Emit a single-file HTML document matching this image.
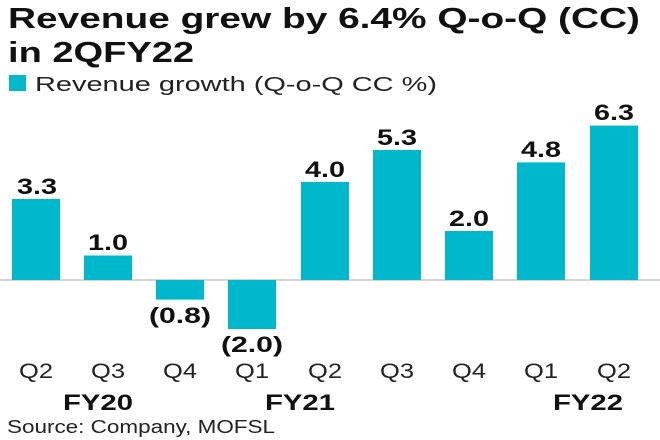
<!DOCTYPE html>
<html><head><style>body{margin:0;background:#fff}svg{display:block}</style></head><body>
<svg width="660" height="440" xmlns="http://www.w3.org/2000/svg" font-family="Liberation Sans, sans-serif">
<text x="8" y="28" font-size="29" font-weight="bold" fill="#111" textLength="632" lengthAdjust="spacingAndGlyphs">Revenue grew by 6.4% Q-o-Q (CC)</text>
<text x="8" y="62" font-size="29" font-weight="bold" fill="#111" textLength="186" lengthAdjust="spacingAndGlyphs">in 2QFY22</text>
<rect x="9" y="75" width="17" height="16" fill="#00b8cc"/>
<text x="35" y="91" font-size="20" fill="#222" textLength="402" lengthAdjust="spacingAndGlyphs">Revenue growth (Q-o-Q CC %)</text>
<line x1="0" y1="280" x2="660" y2="280" stroke="#aaa" stroke-width="1"/>
<g fill="#00b8cc">
<rect x="12" y="199" width="48" height="81"/>
<rect x="84" y="255.5" width="48" height="24.5"/>
<rect x="156" y="280" width="48" height="19.6"/>
<rect x="228" y="280" width="48" height="49"/>
<rect x="301" y="182" width="48" height="98"/>
<rect x="373" y="150" width="48" height="130"/>
<rect x="445" y="231" width="48" height="49"/>
<rect x="517" y="162.4" width="48" height="117.6"/>
<rect x="590" y="125.6" width="48" height="154.4"/>
</g>
<g font-size="22" font-weight="bold" fill="#111" text-anchor="middle">
<text x="37" y="194" textLength="40" lengthAdjust="spacingAndGlyphs">3.3</text>
<text x="108" y="250" textLength="40" lengthAdjust="spacingAndGlyphs">1.0</text>
<text x="180" y="323" textLength="62" lengthAdjust="spacingAndGlyphs">(0.8)</text>
<text x="252" y="352" textLength="62" lengthAdjust="spacingAndGlyphs">(2.0)</text>
<text x="325" y="177" textLength="40" lengthAdjust="spacingAndGlyphs">4.0</text>
<text x="397" y="145" textLength="40" lengthAdjust="spacingAndGlyphs">5.3</text>
<text x="469" y="226" textLength="40" lengthAdjust="spacingAndGlyphs">2.0</text>
<text x="541" y="157" textLength="40" lengthAdjust="spacingAndGlyphs">4.8</text>
<text x="614" y="120" textLength="40" lengthAdjust="spacingAndGlyphs">6.3</text>
</g>
<g font-size="21" fill="#222" text-anchor="middle">
<text x="36" y="378" textLength="34" lengthAdjust="spacingAndGlyphs">Q2</text><text x="108" y="378" textLength="34" lengthAdjust="spacingAndGlyphs">Q3</text><text x="180" y="378" textLength="34" lengthAdjust="spacingAndGlyphs">Q4</text>
<text x="252" y="378" textLength="34" lengthAdjust="spacingAndGlyphs">Q1</text><text x="325" y="378" textLength="34" lengthAdjust="spacingAndGlyphs">Q2</text><text x="397" y="378" textLength="34" lengthAdjust="spacingAndGlyphs">Q3</text>
<text x="469" y="378" textLength="34" lengthAdjust="spacingAndGlyphs">Q4</text><text x="541" y="378" textLength="34" lengthAdjust="spacingAndGlyphs">Q1</text><text x="614" y="378" textLength="34" lengthAdjust="spacingAndGlyphs">Q2</text>
</g>
<g font-size="22" font-weight="bold" fill="#111" text-anchor="middle">
<text x="98" y="410" textLength="70" lengthAdjust="spacingAndGlyphs">FY20</text><text x="300" y="410" textLength="70" lengthAdjust="spacingAndGlyphs">FY21</text><text x="588" y="410" textLength="70" lengthAdjust="spacingAndGlyphs">FY22</text>
</g>
<text x="7" y="433" font-size="18" fill="#222" textLength="268" lengthAdjust="spacingAndGlyphs">Source: Company, MOFSL</text>
</svg>
</body></html>
